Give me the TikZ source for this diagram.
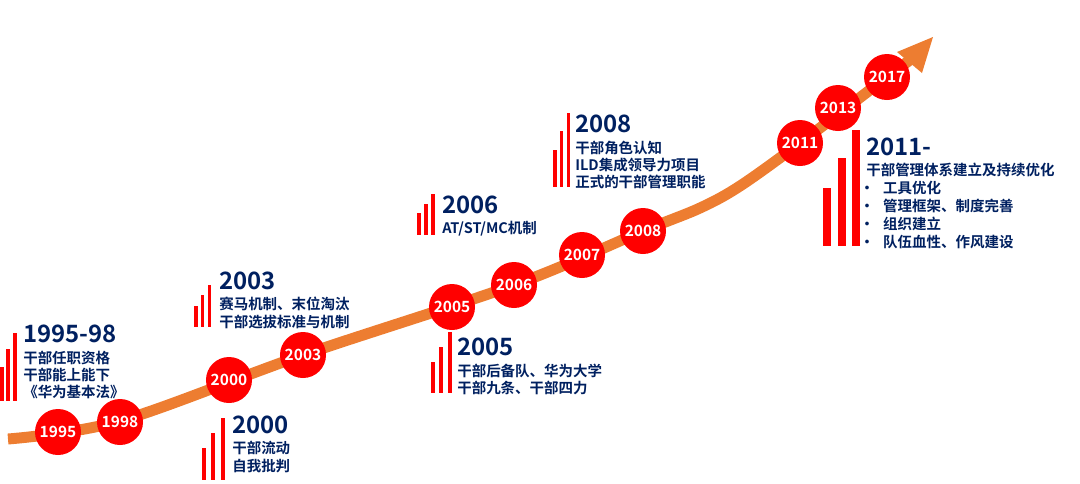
\documentclass[tikz,border=0pt]{standalone}
\usepackage{fontspec}
\setmainfont{Noto Sans CJK SC}[BoldFont={* Bold}]
\definecolor{orng}{RGB}{237,125,49}
\definecolor{redc}{RGB}{255,0,0}
\definecolor{navy}{RGB}{0,32,96}

\begin{document}
\begin{tikzpicture}[x=0.025cm, y=-0.025cm,
  curve/.style={draw=orng, line width=7.8pt},
  yr/.style={circle, fill=redc, minimum size=1.15cm, inner sep=0pt,
    text=white, font=\bfseries\fontsize{11}{11}\selectfont},
  head/.style={anchor=base west, inner sep=0pt, text=navy,
    font=\bfseries\fontsize{17}{17}\selectfont},
  body/.style={anchor=base west, inner sep=0pt, text=navy,
    font=\bfseries\fontsize{10.3}{12}\selectfont},
  bar/.style={fill=redc}]
  \useasboundingbox (0,0) rectangle (1080,483);
  % 发展曲线与箭头
  \draw[curve] plot[smooth, tension=0.55] coordinates {(8,439) (120,421) (303,355)
    (514,285) (643,231) (700,208) (740,186) (800,143) (887,77) (910,60)};
  \fill[orng] (897,52) -- (933,37) -- (922,73) -- cycle;
  % 年份圆点
  \foreach \y/\cx/\cy in {1995/58/432, 1998/120/422, 2000/229/380, 2003/303/355,
    2005/452/307, 2006/514/285, 2007/582/255, 2008/643/231,
    2011/800/143, 2013/838/108, 2017/887/77}
    \node[yr] (y\y) at (\cx,\cy) {\y};
  % 1995-98
  \foreach \bx/\bt in {0/367, 6/349, 13/333}
    \fill[bar] (\bx,401) rectangle (\bx+3.5,\bt);
  \node[head] (h1995) at (23,342) {1995-98};
  \foreach \t [count=\i] in {干部任职资格,干部能上能下,《华为基本法》}
    \node[body] (b1995-\i) at (23,346.5+17*\i) {\t};
  % 2003
  \foreach \bx/\bt in {194/306, 200.5/295, 207.5/285}
    \fill[bar] (\bx,327) rectangle (\bx+3.5,\bt);
  \node[head] (h2003) at (219,289) {2003};
  \foreach \t [count=\i] in {赛马机制、末位淘汰,干部选拔标准与机制}
    \node[body] (b2003-\i) at (219,291+18*\i) {\t};
  % 2000
  \foreach \bx/\bt in {202/448, 211/433, 221/418}
    \fill[bar] (\bx,480) rectangle (\bx+4,\bt);
  \node[head] (h2000) at (232,433) {2000};
  \foreach \t [count=\i] in {干部流动,自我批判}
    \node[body] (b2000-\i) at (232,435.5+18*\i) {\t};
  % 2006
  \foreach \bx/\bt in {417/213, 424/204, 431/194}
    \fill[bar] (\bx,235) rectangle (\bx+3.5,\bt);
  \node[head] (h2006) at (442,213) {2006};
  \node[body] (b2006-1) at (442,233.5) {AT/ST/MC机制};
  % 2005
  \foreach \bx/\bt in {431/362, 438.5/347, 447.5/332}
    \fill[bar] (\bx,393) rectangle (\bx+4,\bt);
  \node[head] (h2005) at (457,355) {2005};
  \foreach \t [count=\i] in {干部后备队、华为大学,干部九条、干部四力}
    \node[body] (b2005-\i) at (457,359.5+17*\i) {\t};
  % 2008
  \foreach \bx/\bt in {553/150, 559.5/131, 566.5/113}
    \fill[bar] (\bx,187) rectangle (\bx+3.5,\bt);
  \node[head] (h2008) at (575,132) {2008};
  \foreach \t [count=\i] in {干部角色认知,ILD集成领导力项目,正式的干部管理职能}
    \node[body] (b2008-\i) at (575,136.5+17*\i) {\t};
  % 2011-
  \foreach \bx/\bt in {823/188, 837.5/158, 852/130}
    \fill[bar] (\bx,246) rectangle (\bx+8,\bt);
  \node[head] (h2011) at (866,155) {2011-};
  \node[body] (b2011-0) at (866,175.5) {干部管理体系建立及持续优化};
  \foreach \t [count=\i] in {工具优化,管理框架、制度完善,组织建立,队伍血性、作风建设}
    \node[body] (b2011-\i) at (866,175.5+18*\i) {\makebox[12pt][l]{\kern-4.5pt•}\t};
\end{tikzpicture}
\end{document}
